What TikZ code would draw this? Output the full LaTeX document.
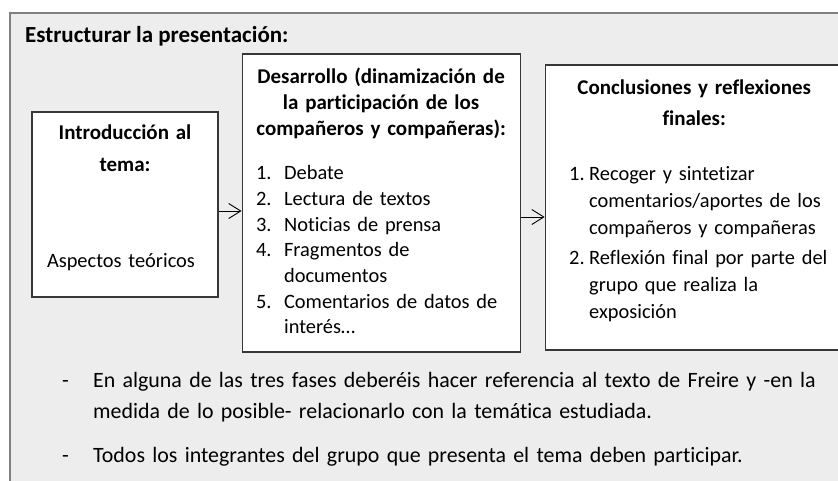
\documentclass[tikz,border=0pt]{standalone}
\usepackage{fontspec}
\setmainfont{Carlito}[Ligatures={TeX,NoCommon}]
\usetikzlibrary{arrows.meta,positioning}
\definecolor{marcoborde}{RGB}{128,128,128}
\definecolor{marcofondo}{RGB}{237,237,237}
\definecolor{cajaborde}{RGB}{55,55,55}
% lineas centradas en negrita y puntos numerados
\newcommand{\titcaja}[2][\hsize]{\makebox[#1][c]{\fontsize{21pt}{\baselineskip}\selectfont\bfseries #2}}
\newcommand{\punto}[3]{\makebox[#1][l]{#2}\mbox{#3}}
\newcommand{\sigue}[2]{\hspace*{#1}\mbox{#2}}

\begin{document}
\begin{tikzpicture}[x=1pt,y=-1pt,>={Straight Barb[length=12pt,width=15pt]},
    font=\fontsize{20.4pt}{25.7pt}\selectfont,
    caja/.style={draw=cajaborde,fill=white,line width=1.1pt,inner ysep=0pt,align=left},
    flecha/.style={->,line width=0.9pt}]
  \useasboundingbox (0,0) rectangle (838,480);
  \clip (0,0) rectangle (838,480);
  \draw[draw=marcoborde,fill=marcofondo,line width=2pt] (10,13) rectangle (870,520);
  \node[anchor=base west,inner sep=0pt,font=\fontsize{23pt}{28pt}\selectfont\bfseries] (titulo) at (25,42)
    {Estructurar la presentación:};
  % las tres fases
  \node[caja,inner xsep=15pt,text width=156pt,minimum height=185pt,
        font=\fontsize{20.4pt}{32pt}\selectfont] (intro) at (125,204.5)
    {\titcaja{Introducción al}\\ \titcaja{tema:}\\[64pt]
     Aspectos teóricos\rule[-16pt]{0pt}{16pt}};
  \node[caja,inner xsep=14pt,text width=250pt,minimum height=298pt,
        right=23pt of intro,yshift=1.5pt] (desarrollo)
    {\titcaja{Desarrollo (dinamización de}\\
     \titcaja{la participación de los}\\
     \titcaja{compañeros y compañeras):}\\[19pt]
     \punto{28pt}{1.}{Debate}\\
     \punto{28pt}{2.}{Lectura de textos}\\
     \punto{28pt}{3.}{Noticias de prensa}\\
     \punto{28pt}{4.}{Fragmentos de}\\
     \sigue{28pt}{documentos}\\
     \punto{28pt}{5.}{Comentarios de datos de}\\
     \sigue{28pt}{interés…}\rule[-4pt]{0pt}{4pt}};
  \node[caja,inner xsep=18pt,text width=280pt,minimum height=285pt,
        font=\fontsize{20.4pt}{27pt}\selectfont,
        right=24pt of desarrollo,yshift=-4.5pt] (conclusiones)
    {\titcaja[262pt]{Conclusiones y reflexiones}\\[4pt]
     \titcaja[262pt]{finales:}\\[28.5pt]
     \punto{26pt}{\hspace*{6pt}1.}{Recoger y sintetizar}\\
     \sigue{26pt}{comentarios/aportes de los}\\
     \sigue{26pt}{compañeros y compañeras}\\[3pt]
     \punto{26pt}{\hspace*{6pt}2.}{Reflexión final por parte del}\\
     \sigue{26pt}{grupo que realiza la}\\
     \sigue{26pt}{exposición}\rule[-17pt]{0pt}{17pt}};
  \path ([yshift=-6.5pt]intro.east) coordinate (a1)
        ([yshift=-14pt]desarrollo.east) coordinate (a2);
  \draw[flecha] (a1) -- (a1 -| desarrollo.west);
  \draw[flecha] (a2) -- (a2 -| conclusiones.west);
  % notas
  \node[anchor=base west,inner sep=0pt,text width=770pt,align=left,
        font=\fontsize{21.9pt}{31.5pt}\selectfont] (notas) at (62,387)
    {\punto{31pt}{-}{En alguna de las tres fases deberéis hacer referencia al texto de Freire y -en la}\\
     \sigue{31pt}{medida de lo posible- relacionarlo con la temática estudiada.}\\[12pt]
     \punto{31pt}{-}{Todos los integrantes del grupo que presenta el tema deben participar.}};
\end{tikzpicture}
\end{document}
